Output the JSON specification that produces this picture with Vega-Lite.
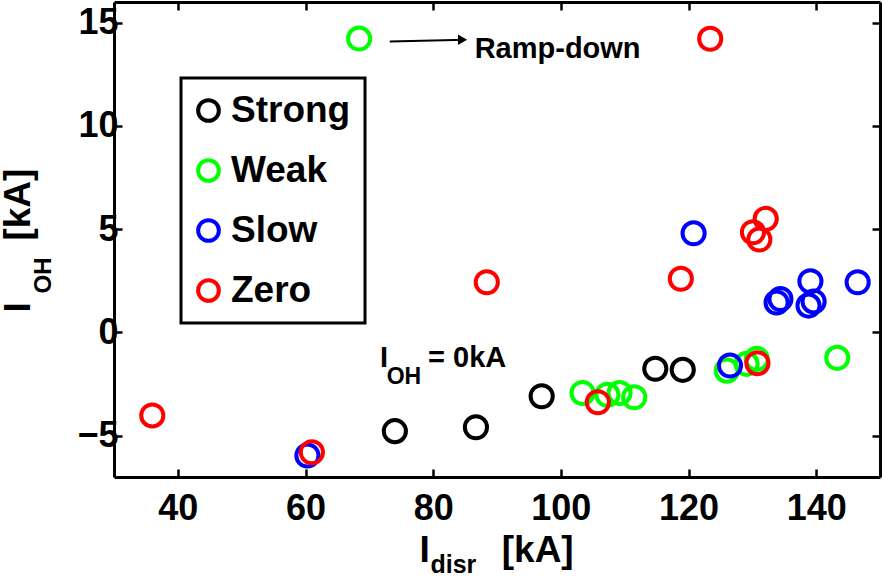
{
  "$schema": "https://vega.github.io/schema/vega-lite/v6.json",
  "width": 766,
  "height": 475,
  "autosize": {"type": "none"},
  "padding": {"left": 114, "top": 2, "right": 4, "bottom": 103},
  "background": "white",
  "config": {
    "view": {"stroke": null},
    "font": "Liberation Sans",
    "legend": {"strokeWidth": 3},
    "axis": {
      "grid": false,
      "domainColor": "black",
      "domainWidth": 3,
      "tickColor": "black",
      "tickWidth": 2.5,
      "labelColor": "black",
      "labelFont": "Liberation Sans",
      "labelFontWeight": "bold",
      "labelFontSize": 36,
      "labelFlush": false,
      "labelOverlap": false,
      "labelBound": false,
      "titleColor": "black",
      "titleFont": "Liberation Sans",
      "titleFontWeight": "bold"
    }
  },
  "resolve": {"axis": {"x": "independent", "y": "independent"}},
  "layer": [
    {
      "data": {"values": [
        {"cat": "Strong", "Idisr": 74.0, "IOH": -4.78},
        {"cat": "Strong", "Idisr": 86.7, "IOH": -4.59},
        {"cat": "Strong", "Idisr": 97.0, "IOH": -3.09},
        {"cat": "Strong", "Idisr": 114.8, "IOH": -1.76},
        {"cat": "Strong", "Idisr": 119.1, "IOH": -1.81},
        {"cat": "Weak", "Idisr": 68.4, "IOH": 14.23},
        {"cat": "Weak", "Idisr": 103.4, "IOH": -2.93},
        {"cat": "Weak", "Idisr": 107.3, "IOH": -3.02},
        {"cat": "Weak", "Idisr": 109.2, "IOH": -2.93},
        {"cat": "Weak", "Idisr": 111.5, "IOH": -3.14},
        {"cat": "Weak", "Idisr": 126.0, "IOH": -1.85},
        {"cat": "Weak", "Idisr": 129.1, "IOH": -1.52},
        {"cat": "Weak", "Idisr": 130.7, "IOH": -1.28},
        {"cat": "Weak", "Idisr": 143.3, "IOH": -1.23},
        {"cat": "Slow", "Idisr": 60.3, "IOH": -5.96},
        {"cat": "Slow", "Idisr": 120.8, "IOH": 4.8},
        {"cat": "Slow", "Idisr": 126.5, "IOH": -1.6},
        {"cat": "Slow", "Idisr": 133.8, "IOH": 1.45},
        {"cat": "Slow", "Idisr": 134.4, "IOH": 1.62},
        {"cat": "Slow", "Idisr": 138.8, "IOH": 1.3},
        {"cat": "Slow", "Idisr": 139.6, "IOH": 1.5},
        {"cat": "Slow", "Idisr": 139.1, "IOH": 2.48},
        {"cat": "Slow", "Idisr": 146.5, "IOH": 2.43},
        {"cat": "Zero", "Idisr": 36.0, "IOH": -4.02},
        {"cat": "Zero", "Idisr": 61.0, "IOH": -5.8},
        {"cat": "Zero", "Idisr": 88.4, "IOH": 2.43},
        {"cat": "Zero", "Idisr": 105.8, "IOH": -3.38},
        {"cat": "Zero", "Idisr": 118.8, "IOH": 2.6},
        {"cat": "Zero", "Idisr": 123.4, "IOH": 14.22},
        {"cat": "Zero", "Idisr": 130.1, "IOH": 4.85},
        {"cat": "Zero", "Idisr": 131.1, "IOH": 4.5},
        {"cat": "Zero", "Idisr": 132.1, "IOH": 5.5},
        {"cat": "Zero", "Idisr": 130.8, "IOH": -1.49}
      ]},
      "mark": {"type": "point", "shape": "circle", "filled": false, "strokeWidth": 4, "size": 490, "opacity": 1},
      "encoding": {
        "x": {
          "field": "Idisr", "type": "quantitative",
          "scale": {"domain": [30, 150], "nice": false, "zero": false},
          "axis": {
            "orient": "bottom",
            "values": [40, 60, 80, 100, 120, 140],
            "tickSize": -8,
            "labelPadding": 22,
            "title": "I\u00a0\u00a0\u00a0\u00a0\u00a0\u00a0\u00a0[kA]",
            "titleFontSize": 37,
            "titleAlign": "left",
            "titleAnchor": "start",
            "titleBaseline": "alphabetic",
            "titleX": 305,
            "titleY": 84
          }
        },
        "y": {
          "field": "IOH", "type": "quantitative",
          "scale": {"domain": [-7, 16], "nice": false, "zero": false},
          "axis": {
            "orient": "left",
            "values": [-5, 0, 5, 10, 15],
            "tickSize": -8,
            "labelPadding": 4,
            "title": "I\u00a0\u00a0\u00a0\u00a0\u00a0\u00a0[kA]",
            "titleFontSize": 37,
            "titleAngle": -90,
            "titleAlign": "left",
            "titleAnchor": "start",
            "titleBaseline": "alphabetic",
            "titleX": -85,
            "titleY": 310
          }
        },
        "color": {
          "field": "cat", "type": "nominal",
          "scale": {"domain": ["Strong", "Weak", "Slow", "Zero"], "range": ["#000000", "#00ff00", "#0000ff", "#ff0000"]},
          "legend": {
            "title": null,
            "orient": "none",
            "legendX": 67,
            "legendY": 76,
            "direction": "vertical",
            "strokeColor": "black",
            "fillColor": "white",
            "padding": 14,
            "symbolType": "circle",
            "symbolSize": 430,
            "symbolStrokeWidth": 4,
            "symbolOffset": -5,
            "labelFont": "Liberation Sans",
            "labelFontSize": 37,
            "labelFontWeight": "bold",
            "labelColor": "black",
            "labelOffset": 4,
            "rowPadding": 22,
            "encode": {"legend": {"update": {"strokeWidth": {"value": 3}, "stroke": {"value": "black"}}}}
          }
        }
      }
    },
    {
      "mark": {"type": "rule", "color": "black", "strokeWidth": 2.5},
      "encoding": {
        "y": {"datum": 0, "type": "quantitative", "scale": {"domain": [-7, 16], "nice": false, "zero": false}, "axis": null}
      }
    },
    {
      "data": {"values": [
        {"Idisr": 73.2, "IOH": 14.09},
        {"Idisr": 85.0, "IOH": 14.17}
      ]},
      "mark": {"type": "line", "color": "black", "strokeWidth": 2},
      "encoding": {
        "x": {
          "field": "Idisr", "type": "quantitative",
          "scale": {"domain": [30, 150], "nice": false, "zero": false},
          "axis": {
            "orient": "top",
            "values": [40, 60, 80, 100, 120, 140],
            "tickSize": -8,
            "labels": false,
            "title": "disr",
            "titleFontSize": 25,
            "titleAlign": "left",
            "titleAnchor": "start",
            "titleBaseline": "alphabetic",
            "titleX": 316,
            "titleY": 570
          }
        },
        "y": {
          "field": "IOH", "type": "quantitative",
          "scale": {"domain": [-7, 16], "nice": false, "zero": false},
          "axis": {
            "orient": "right",
            "values": [-5, 0, 5, 10, 15],
            "tickSize": -8,
            "labels": false,
            "title": "OH",
            "titleFontSize": 24,
            "titleAngle": -90,
            "titleAlign": "left",
            "titleAnchor": "start",
            "titleBaseline": "alphabetic",
            "titleX": -830,
            "titleY": 291
          }
        }
      }
    },
    {
      "data": {"values": [{"Idisr": 84.6, "IOH": 14.17}]},
      "mark": {"type": "point", "shape": "triangle-right", "filled": true, "color": "black", "size": 110, "opacity": 1},
      "encoding": {
        "x": {"field": "Idisr", "type": "quantitative", "scale": {"domain": [30, 150], "nice": false, "zero": false}, "axis": null},
        "y": {"field": "IOH", "type": "quantitative", "scale": {"domain": [-7, 16], "nice": false, "zero": false}, "axis": null}
      }
    },
    {
      "data": {"values": [
        {"label": "Ramp-down", "Idisr": 86.5, "IOH": 13.3},
        {"label": "I", "Idisr": 71.67, "IOH": -1.69},
        {"label": "= 0kA", "Idisr": 79.2, "IOH": -1.69}
      ]},
      "mark": {"type": "text", "align": "left", "baseline": "alphabetic", "font": "Liberation Sans", "fontWeight": "bold", "fontSize": 29, "color": "black"},
      "encoding": {
        "x": {"field": "Idisr", "type": "quantitative", "scale": {"domain": [30, 150], "nice": false, "zero": false}, "axis": null},
        "y": {"field": "IOH", "type": "quantitative", "scale": {"domain": [-7, 16], "nice": false, "zero": false}, "axis": null},
        "text": {"field": "label"}
      }
    },
    {
      "data": {"values": [
        {"label": "OH", "Idisr": 72.72, "IOH": -2.475}
      ]},
      "mark": {"type": "text", "align": "left", "baseline": "alphabetic", "font": "Liberation Sans", "fontWeight": "bold", "fontSize": 23, "color": "black"},
      "encoding": {
        "x": {"field": "Idisr", "type": "quantitative", "scale": {"domain": [30, 150], "nice": false, "zero": false}, "axis": null},
        "y": {"field": "IOH", "type": "quantitative", "scale": {"domain": [-7, 16], "nice": false, "zero": false}, "axis": null},
        "text": {"field": "label"}
      }
    }
  ]
}
